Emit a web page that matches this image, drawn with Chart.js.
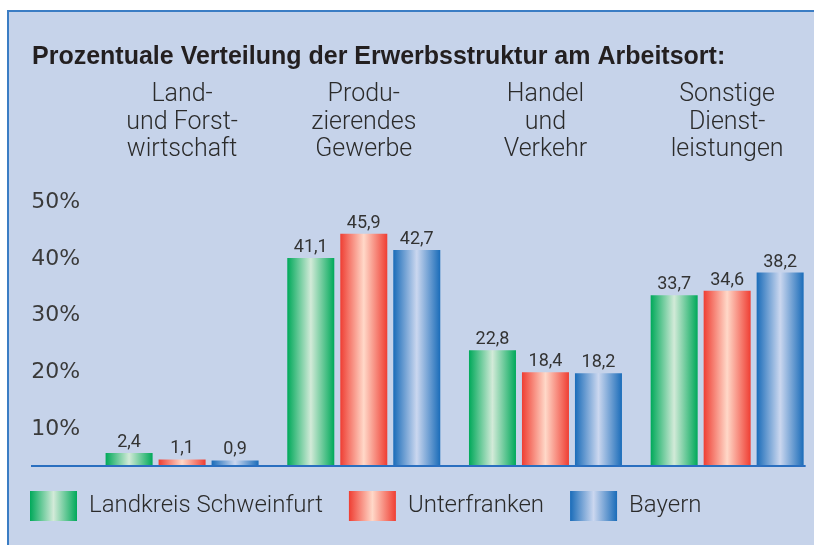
<!DOCTYPE html>
<html lang="de">
<head>
<meta charset="utf-8">
<title>Erwerbsstruktur am Arbeitsort</title>
<script src="https://cdn.jsdelivr.net/npm/chart.js"></script>
<style>
  html, body { margin: 0; padding: 0; overflow: hidden; background: #ffffff; }
  #clip { position: absolute; left: 0; top: 0; width: 814px; height: 545px; overflow: hidden; }
  #rahmen {
    position: absolute; left: 7px; top: 10px; width: 805px; height: 535px;
    background: #c6d3ea;
    border-left: 2px solid #3b7dc4; border-top: 2px solid #3b7dc4;
  }
  #wrap { position: absolute; left: 0; top: 0; width: 818px; height: 545px; }
</style>
</head>
<body>
<div id="clip">
  <div id="rahmen"></div>
  <div id="wrap"><canvas id="grafik"></canvas></div>
</div>
<script>
// Daten aus der Grafik
var kategorien = [
  ['Land-', 'und Forst-', 'wirtschaft'],
  ['Produ-', 'zierendes', 'Gewerbe'],
  ['Handel', 'und', 'Verkehr'],
  ['Sonstige', 'Dienst-', 'leistungen']
];
var regionen = ['Landkreis Schweinfurt', 'Unterfranken', 'Bayern'];
var werteSchweinfurt = [2.4, 41.1, 22.8, 33.7];
var werteUnterfranken = [1.1, 45.9, 18.4, 34.6];
var werteBayern = [0.9, 42.7, 18.2, 38.2];
var yTicks = [10, 20, 30, 40, 50];

var farben = [
  { rand: '#00a95a', mitte: '#d2ead8' },
  { rand: '#ef3e33', mitte: '#ffd8c8' },
  { rand: '#1a6cb9', mitte: '#cbd7ef' }
];

function verlauf(ctx, x0, x1, f) {
  var g = ctx.createLinearGradient(x0, 0, x1, 0);
  g.addColorStop(0, f.rand);
  g.addColorStop(0.5, f.mitte);
  g.addColorStop(1, f.rand);
  return g;
}

function zahl(v) {
  return v.toFixed(1).replace('.', ',');
}

var verlaufPlugin = {
  id: 'verlauf',
  afterLayout: function(chart) {
    // Titel sitzt weiter rechts als die Legende
    chart.titleBlock.left = 32;
  },
  beforeDraw: function(chart) {
    var ctx = chart.ctx;
    var boxen = chart.legend.legendHitBoxes;
    chart.legend.legendItems.forEach(function(item, i) {
      var l = boxen[i].left;
      item.fillStyle = verlauf(ctx, l, l + 47, farben[i]);
    });
  },
  beforeDatasetsDraw: function(chart) {
    var ctx = chart.ctx;
    var y = chart.chartArea.bottom + 1;
    var letzte = chart.getDatasetMeta(chart.data.datasets.length - 1).data;
    var ende = letzte[letzte.length - 1];
    ctx.save();
    ctx.strokeStyle = '#2a6fc0';
    ctx.lineWidth = 2;
    ctx.beginPath();
    ctx.moveTo(31, y);
    ctx.lineTo(ende.x + ende.width / 2 + 2, y);
    ctx.stroke();
    ctx.restore();

    chart.data.datasets.forEach(function(ds, i) {
      chart.getDatasetMeta(i).data.forEach(function(bar) {
        var g = verlauf(ctx, bar.x - bar.width / 2, bar.x + bar.width / 2, farben[i]);
        bar.options = Object.assign({}, bar.options, { backgroundColor: g });
      });
    });
  },
  afterDatasetsDraw: function(chart) {
    var ctx = chart.ctx;
    ctx.save();
    ctx.fillStyle = '#333333';
    ctx.font = '18px Roboto, "DejaVu Sans", sans-serif';
    ctx.textAlign = 'center';
    ctx.textBaseline = 'alphabetic';
    chart.data.datasets.forEach(function(ds, i) {
      chart.getDatasetMeta(i).data.forEach(function(bar, j) {
        ctx.fillText(zahl(ds.data[j]), bar.x, bar.y - 6);
      });
    });
    ctx.restore();
  }
};

new Chart(document.getElementById('grafik'), {
  type: 'bar',
  data: {
    labels: kategorien,
    datasets: [
      { label: regionen[0], data: werteSchweinfurt, backgroundColor: farben[0].rand },
      { label: regionen[1], data: werteUnterfranken, backgroundColor: farben[1].rand },
      { label: regionen[2], data: werteBayern, backgroundColor: farben[2].rand }
    ]
  },
  options: {
    responsive: true,
    maintainAspectRatio: false,
    animation: false,
    datasets: {
      bar: { categoryPercentage: 0.875, barPercentage: 0.887, borderWidth: 0 }
    },
    layout: { padding: { left: 4, top: 0, right: 0, bottom: 14 } },
    plugins: {
      title: {
        display: true,
        text: 'Prozentuale Verteilung der Erwerbsstruktur am Arbeitsort:',
        align: 'start',
        color: '#231f20',
        font: { family: '"Liberation Sans", Arial, sans-serif', size: 25, weight: 'bold' },
        padding: { top: 42, bottom: -18 }
      },
      legend: {
        position: 'bottom',
        align: 'start',
        labels: {
          boxWidth: 47,
          boxHeight: 30,
          padding: 26,
          color: '#2b2b2b',
          font: { family: 'Roboto, "Liberation Sans", sans-serif', size: 24, weight: 300 }
        }
      },
      tooltip: { enabled: false }
    },
    scales: {
      x: {
        position: 'top',
        grid: { display: false, drawTicks: false },
        border: { display: false },
        ticks: {
          color: '#2b2b2b',
          font: { family: 'Roboto, "Liberation Sans", sans-serif', size: 25, weight: 300, lineHeight: 1.1 },
          padding: 27,
          maxRotation: 0,
          autoSkip: false
        }
      },
      y: { display: false, min: 0, max: 54.5 },
      yBeschriftung: {
        position: 'left',
        min: 3.63,
        max: 52.12,
        grid: { display: false, drawTicks: false },
        border: { display: false },
        afterBuildTicks: function(s) {
          s.ticks = yTicks.map(function(v) { return { value: v }; });
        },
        afterFit: function(s) { s.width = 87.25; },
        ticks: {
          padding: 11,
          color: '#3a3a3a',
          font: { family: '"DejaVu Sans", sans-serif', size: 22 },
          callback: function(v) { return v + '%'; }
        }
      }
    }
  },
  plugins: [verlaufPlugin]
});
</script>
</body>
</html>
